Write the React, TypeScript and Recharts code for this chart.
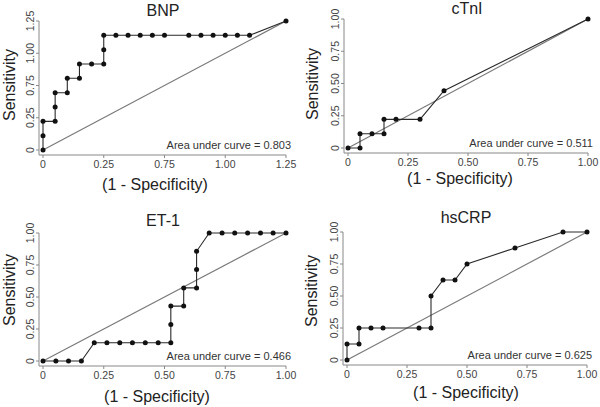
import React from "react";
import { ScatterChart, Scatter, XAxis, YAxis, ReferenceLine } from "recharts";

// tick positions are shared, the labels differ (BNP panel is labelled oddly)
const tickPos = [0, 0.25, 0.5, 0.75, 1];
const stdLabels = ["0", "0.25", "0.50", "0.75", "1.00"];
const bnpLabels = ["0", "0.25", "0.75", "1.00", "1.25"];

// BNP
const bnpFpr = [0, 0, 0, 0.05, 0.05, 0.05, 0.1, 0.1, 0.15, 0.15, 0.2, 0.25, 0.25, 0.25, 0.3, 0.35, 0.4, 0.45, 0.5, 0.6, 0.65, 0.7, 0.75, 0.8, 0.85, 1];
const bnpSens = [0, 0.111, 0.222, 0.222, 0.333, 0.444, 0.444, 0.556, 0.556, 0.667, 0.667, 0.667, 0.778, 0.889, 0.889, 0.889, 0.889, 0.889, 0.889, 0.889, 0.889, 0.889, 0.889, 0.889, 0.889, 1];

// cTnI
const ctniFpr = [0, 0.05, 0.05, 0.1, 0.15, 0.15, 0.2, 0.3, 0.4, 1];
const ctniSens = [0, 0, 0.111, 0.111, 0.111, 0.222, 0.222, 0.222, 0.444, 1];

// ET-1
const et1Fpr = [0, 0.053, 0.105, 0.158, 0.211, 0.263, 0.316, 0.368, 0.421, 0.474, 0.526, 0.526, 0.526, 0.579, 0.579, 0.632, 0.632, 0.632, 0.684, 0.737, 0.789, 0.842, 0.895, 0.947, 1];
const et1Sens = [0, 0, 0, 0, 0.143, 0.143, 0.143, 0.143, 0.143, 0.143, 0.143, 0.286, 0.429, 0.429, 0.571, 0.571, 0.714, 0.857, 1, 1, 1, 1, 1, 1, 1];

// hsCRP
const crpFpr = [0, 0, 0.05, 0.05, 0.1, 0.15, 0.3, 0.35, 0.35, 0.4, 0.45, 0.5, 0.7, 0.9, 1];
const crpSens = [0, 0.125, 0.125, 0.25, 0.25, 0.25, 0.25, 0.25, 0.5, 0.625, 0.625, 0.75, 0.875, 1, 1];

const FONT = "'Liberation Sans', Arial, Helvetica, sans-serif";
const PADX = 4; // gap between y axis line and x = 0
const PADY = 5; // gap between x axis line and y = 0
const Y_AXIS_W = 20;
const X_AXIS_H = 30;

type Box = { x0: number; x1: number; y0: number; y1: number };
type Pt = [number, number];

type PanelProps = {
  left: number;
  top: number;
  height: number;
  title: string;
  fpr: number[];
  sens: number[];
  labels: string[];
  auc: string;
  box: Box;
  titleAt: Pt;
  xTitleAt: Pt;
  yTitleAt: Pt;
};

const labelFor = (labels: string[], v: number) => labels[tickPos.indexOf(v)] ?? "";

const Panel = ({ left, top, height, title, fpr, sens, labels, auc, box, titleAt, xTitleAt, yTitleAt }: PanelProps) => {
  const data = fpr.map((x, i) => ({ x, y: sens[i] }));
  const padX = PADX / (box.x1 - box.x0);
  const padY = PADY / (box.y0 - box.y1);
  const margin = {
    top: box.y1,
    right: 300 - box.x1,
    left: box.x0 - PADX - Y_AXIS_W,
    bottom: height - (box.y0 + PADY) - X_AXIS_H,
  };

  return (
    <div style={{ position: "absolute", left, top, width: 300, height }}>
      <ScatterChart width={300} height={height} margin={margin}>
        <XAxis
          type="number"
          dataKey="x"
          domain={[-padX, 1]}
          ticks={tickPos}
          height={X_AXIS_H}
          stroke="#888"
          tickSize={3}
          tickMargin={2.5}
          tick={{ fontSize: 10.5, fill: "#444" }}
          tickFormatter={(v: number) => labelFor(labels, v)}
        />
        <YAxis
          type="number"
          dataKey="y"
          domain={[-padY, 1]}
          ticks={tickPos}
          width={Y_AXIS_W}
          stroke="#888"
          tickSize={3}
          tickMargin={2}
          tick={({ x, y, payload }: any) => (
            <text
              x={x}
              y={y}
              transform={`rotate(-90 ${x} ${y})`}
              textAnchor="middle"
              fontSize={10.5}
              fill="#444"
            >
              {labelFor(labels, payload.value)}
            </text>
          )}
        />
        <ReferenceLine
          segment={[{ x: 0, y: 0 }, { x: 1, y: 1 }]}
          stroke="#7a7a7a"
          strokeWidth={1.2}
          ifOverflow="visible"
        />
        <Scatter
          data={data}
          line={{ stroke: "#2a2a2a", strokeWidth: 1.1 }}
          lineType="joint"
          isAnimationActive={false}
          shape={(p: any) => <circle cx={p.cx} cy={p.cy} r={2.5} fill="#111" />}
        />
      </ScatterChart>

      <div style={{ position: "absolute", left: titleAt[0], top: titleAt[1], transform: "translate(-50%, -50%)", fontSize: 16, lineHeight: 1, color: "#222", whiteSpace: "nowrap" }}>
        {title}
      </div>
      <div style={{ position: "absolute", left: xTitleAt[0], top: xTitleAt[1], transform: "translate(-50%, -50%)", fontSize: 16, lineHeight: 1, color: "#222", whiteSpace: "nowrap" }}>
        (1 - Specificity)
      </div>
      <div style={{ position: "absolute", left: yTitleAt[0], top: yTitleAt[1], transform: "translate(-50%, -50%) rotate(-90deg)", fontSize: 16, lineHeight: 1, color: "#222", whiteSpace: "nowrap" }}>
        Sensitivity
      </div>
      <div style={{ position: "absolute", right: 300 - (box.x1 + 5), top: box.y0 - 5, transform: "translateY(-50%)", fontSize: 11, lineHeight: 1, color: "#333", whiteSpace: "nowrap" }}>
        Area under curve = {auc}
      </div>
    </div>
  );
};

export default function App() {
  return (
    <div style={{ position: "absolute", left: 0, top: 0, width: 600, height: 407, background: "#fff", fontFamily: FONT }}>
      <Panel
        left={0} top={0} height={200}
        title="BNP" fpr={bnpFpr} sens={bnpSens} labels={bnpLabels} auc="0.803"
        box={{ x0: 43, x1: 286, y0: 150, y1: 21 }}
        titleAt={[163, 11]} xTitleAt={[155, 185]} yTitleAt={[10, 85]}
      />
      <Panel
        left={300} top={0} height={200}
        title="cTnI" fpr={ctniFpr} sens={ctniSens} labels={stdLabels} auc="0.511"
        box={{ x0: 48, x1: 288, y0: 148, y1: 19 }}
        titleAt={[167, 9]} xTitleAt={[160, 179]} yTitleAt={[13, 84]}
      />
      <Panel
        left={0} top={200} height={207}
        title="ET-1" fpr={et1Fpr} sens={et1Sens} labels={stdLabels} auc="0.466"
        box={{ x0: 43, x1: 286, y0: 161, y1: 33 }}
        titleAt={[163, 21]} xTitleAt={[157, 197]} yTitleAt={[10, 90]}
      />
      <Panel
        left={300} top={200} height={207}
        title="hsCRP" fpr={crpFpr} sens={crpSens} labels={stdLabels} auc="0.625"
        box={{ x0: 47, x1: 287, y0: 160, y1: 32 }}
        titleAt={[166, 18]} xTitleAt={[166, 193]} yTitleAt={[12, 91]}
      />
    </div>
  );
}
